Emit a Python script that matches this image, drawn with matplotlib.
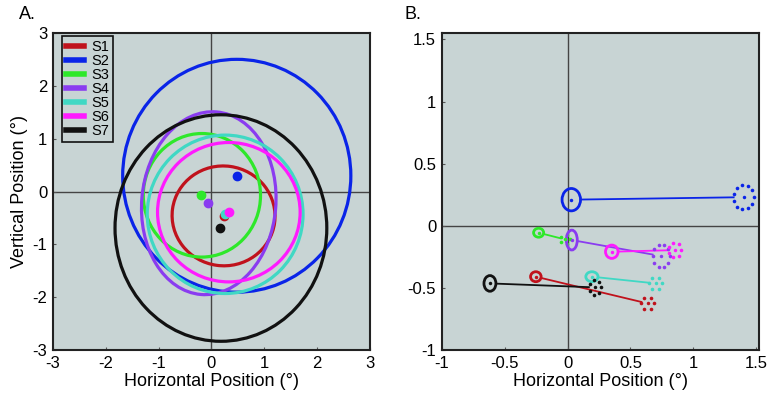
import numpy as np
import matplotlib
matplotlib.use('Agg')
import matplotlib.pyplot as plt
from matplotlib.patches import Ellipse
from matplotlib.ticker import FuncFormatter

plt.rcParams['font.family'] = ['Liberation Sans', 'DejaVu Sans']
plt.rcParams['axes.unicode_minus'] = False

# subjects and colours
subjects = ['S1', 'S2', 'S3', 'S4', 'S5', 'S6', 'S7']
colors = ['#c0121c', '#0a24e8', '#2ee82a', '#8a3cf0', '#40d8c4', '#ff1aff', '#111111']

# panel A: mean gaze position and ellipse (center x, y, width, height, angle)
a_cx = [0.23, 0.48, -0.18, -0.05, 0.26, 0.33, 0.18]
a_cy = [-0.46, 0.30, -0.07, -0.22, -0.43, -0.39, -0.69]
a_w = [1.95, 4.32, 2.22, 2.54, 2.95, 2.70, 4.01]
a_h = [1.89, 4.41, 2.34, 3.47, 3.00, 2.64, 4.29]
a_ang = [-8, 0, 0, -5, 0, 0, 0]
a_dx = [0.23, 0.48, -0.20, -0.06, 0.26, 0.34, 0.17]
a_dy = [-0.47, 0.30, -0.07, -0.21, -0.42, -0.38, -0.69]

# panel B: start (solid) and end (dotted) positions with ellipse sizes
b1_x = [-0.252, 0.03, -0.23, 0.034, 0.194, 0.352, -0.617]
b1_y = [-0.41, 0.21, -0.056, -0.115, -0.41, -0.209, -0.464]
b1_w = [0.084, 0.147, 0.08, 0.087, 0.097, 0.10, 0.095]
b1_h = [0.08, 0.18, 0.072, 0.16, 0.08, 0.107, 0.126]
b2_x = [0.636, 1.40, -0.02, 0.746, 0.70, 0.851, 0.22]
b2_y = [-0.625, 0.23, -0.11, -0.244, -0.464, -0.196, -0.496]
b2_w = [0.10, 0.158, 0.08, 0.14, 0.10, 0.105, 0.10]
b2_h = [0.107, 0.20, 0.08, 0.19, 0.107, 0.118, 0.12]

bg = '#c8d4d4'

fig = plt.figure(figsize=(7.71, 3.99), dpi=100)
axA = fig.add_axes([0.0687, 0.1228, 0.411, 0.794])
axB = fig.add_axes([0.573, 0.1228, 0.411, 0.794])

fmt = FuncFormatter(lambda v, p: '%g' % v)

for ax in (axA, axB):
    ax.set_facecolor(bg)
    ax.axhline(0, color='#444444', lw=1, zorder=1)
    ax.axvline(0, color='#444444', lw=1, zorder=1)
    ax.tick_params(direction='in', length=2, width=0.8, labelsize=12, pad=4, color='#555555')
    for s in ax.spines.values():
        s.set_linewidth(1.5)
        s.set_color('#222222')
    ax.xaxis.set_major_formatter(fmt)
    ax.yaxis.set_major_formatter(fmt)

# panel A
for i in range(len(subjects)):
    e = Ellipse((a_cx[i], a_cy[i]), a_w[i], a_h[i], angle=a_ang[i], fill=False,
                ec=colors[i], lw=2.3, zorder=3)
    axA.add_patch(e)
    axA.plot([], [], color=colors[i], lw=4, label=subjects[i])
for i in range(len(subjects)):
    axA.plot(a_dx[i], a_dy[i], 'o', color=colors[i], ms=6, zorder=4)
axA.set_xlim(-3, 3)
axA.set_ylim(-3, 3)
axA.set_xticks([-3, -2, -1, 0, 1, 2, 3])
axA.set_yticks([-3, -2, -1, 0, 1, 2, 3])
axA.set_xlabel('Horizontal Position (°)', fontsize=13, labelpad=2)
axA.set_ylabel('Vertical Position (°)', fontsize=13, labelpad=3)
leg = axA.legend(loc='upper left', bbox_to_anchor=(0.03, 0.99), fontsize=10.5,
                 handlelength=1.25, handletextpad=0.5, labelspacing=0.0,
                 borderpad=0.25, borderaxespad=0.0, fancybox=False,
                 facecolor=bg, framealpha=1)
leg.get_frame().set_edgecolor('#111111')
leg.get_frame().set_linewidth(1.2)


def edge_point(cx, cy, w, h, tx, ty):
    dx, dy = tx - cx, ty - cy
    t = 1.0 / np.sqrt((dx / (w / 2)) ** 2 + (dy / (h / 2)) ** 2)
    return cx + t * dx, cy + t * dy


# panel B
for i in range(len(subjects)):
    c = colors[i]
    p1 = edge_point(b1_x[i], b1_y[i], b1_w[i], b1_h[i], b2_x[i], b2_y[i])
    p2 = edge_point(b2_x[i], b2_y[i], b2_w[i], b2_h[i], b1_x[i], b1_y[i])
    axB.plot([p1[0], p2[0]], [p1[1], p2[1]], color=c, lw=1.3, zorder=2)
    axB.add_patch(Ellipse((b1_x[i], b1_y[i]), b1_w[i], b1_h[i], fill=False, ec=c,
                          lw=2.0, zorder=3))
    # dotted ellipse drawn as evenly spaced dots
    perim = np.pi * (b2_w[i] + b2_h[i]) / 2 * 126
    n = int(round(perim / 6.5))
    th = np.linspace(0, 2 * np.pi, n, endpoint=False)
    axB.plot(b2_x[i] + b2_w[i] / 2 * np.cos(th), b2_y[i] + b2_h[i] / 2 * np.sin(th),
             'o', color=c, ms=2.6, mew=0, zorder=3)
    axB.plot(b1_x[i], b1_y[i], 'o', color=c, ms=2.5, mew=0, zorder=4)
    axB.plot(b2_x[i], b2_y[i], 'o', color=c, ms=2.5, mew=0, zorder=4)
axB.set_xlim(-1, 1.52)
axB.set_ylim(-1, 1.55)
axB.set_xticks([-1, -0.5, 0, 0.5, 1, 1.5])
axB.set_yticks([-1, -0.5, 0, 0.5, 1, 1.5])
axB.set_xlabel('Horizontal Position (°)', fontsize=13, labelpad=2)

fig.text(0.025, 0.985, 'A.', fontsize=13, va='top')
fig.text(0.525, 0.985, 'B.', fontsize=13, va='top')

fig.savefig('out.png', dpi=100)
